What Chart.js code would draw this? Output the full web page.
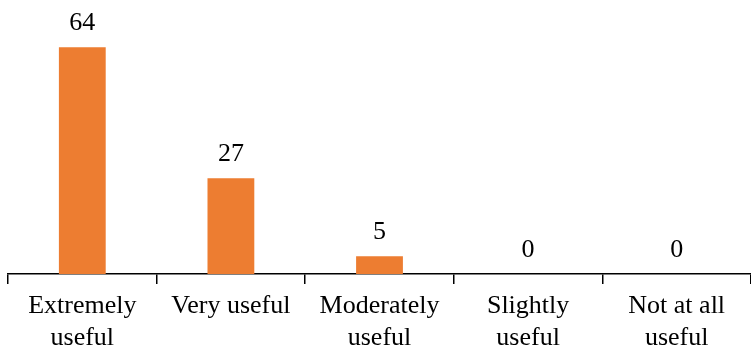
<!DOCTYPE html>
<html>
<head>
<meta charset="utf-8">
<script src="https://cdn.jsdelivr.net/npm/chart.js@4/dist/chart.umd.min.js"></script>
<style>
  body { margin: 0; background: #fff; }
  #clip { width: 751px; height: 350px; overflow: hidden; }
  #wrap { width: 751px; height: 360px; position: relative; }
</style>
</head>
<body>
<div id="clip"><div id="wrap"><canvas id="myChart"></canvas></div></div>
<script>
// categories and counts
var categories = [["Extremely", "useful"], "Very useful", ["Moderately", "useful"], ["Slightly", "useful"], ["Not at all", "useful"]];
var counts = [64, 27, 5, 0, 0];

// value labels above each bar
var valueLabels = {
  id: 'valueLabels',
  afterDatasetsDraw: function(chart) {
    var ctx = chart.ctx;
    var meta = chart.getDatasetMeta(0);
    ctx.save();
    ctx.font = '26px "Liberation Serif", "Times New Roman", serif';
    ctx.fillStyle = '#000';
    ctx.textAlign = 'center';
    ctx.textBaseline = 'alphabetic';
    meta.data.forEach(function(bar, i) {
      ctx.fillText(String(counts[i]), bar.x, bar.y - 17);
    });
    ctx.restore();
  }
};

var ctx = document.getElementById("myChart").getContext('2d');
var myChart = new Chart(ctx, {
  type: 'bar',
  data: {
    labels: categories,
    datasets: [{
      data: counts,
      backgroundColor: '#ED7D31',
      categoryPercentage: 1,
      barPercentage: 0.315
    }]
  },
  options: {
    responsive: true,
    maintainAspectRatio: false,
    animation: false,
    layout: { padding: { left: 8, right: 0, top: 26, bottom: 0 } },
    plugins: { legend: { display: false }, tooltip: { enabled: false } },
    scales: {
      x: {
        grid: { offset: true, drawOnChartArea: false, drawTicks: true, tickLength: 10, color: '#000', lineWidth: 1.5 },
        border: { color: '#000', width: 1.5 },
        ticks: {
          color: '#000',
          padding: 6,
          maxRotation: 0,
          autoSkip: false,
          font: { family: '"Liberation Serif", "Times New Roman", serif', size: 26, lineHeight: 1.23 }
        }
      },
      y: { display: false, min: 0, max: 70 }
    }
  },
  plugins: [valueLabels]
});
</script>
</body>
</html>
